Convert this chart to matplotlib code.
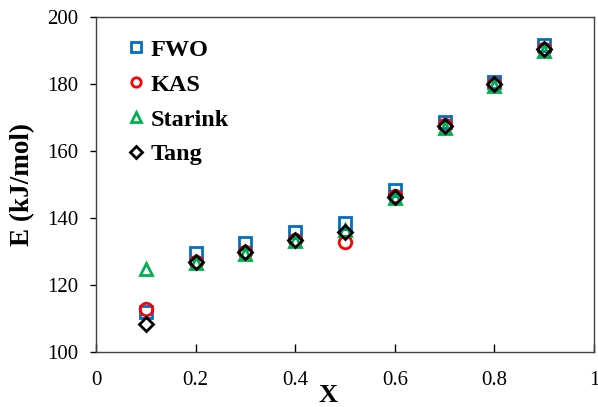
import matplotlib
matplotlib.use("Agg")
import matplotlib.pyplot as plt

x = [0.1, 0.2, 0.3, 0.4, 0.5, 0.6, 0.7, 0.8, 0.9]
fwo = [112.0, 129.6, 132.5, 135.9, 138.4, 148.4, 168.8, 180.7, 191.6]
kas = [112.8, 127.0, 130.0, 133.5, 132.9, 146.6, 167.7, 180.1, 190.6]
starink = [124.8, 126.6, 129.4, 133.0, 136.4, 146.0, 167.0, 179.4, 190.0]
tang = [108.4, 126.9, 129.9, 133.4, 135.9, 146.3, 167.5, 180.0, 190.4]

xticks = [0, 0.2, 0.4, 0.6, 0.8, 1]
xticklabels = ["0", "0.2", "0.4", "0.6", "0.8", "1"]
yticks = [100, 120, 140, 160, 180, 200]

plt.rcParams['font.family'] = ['Liberation Serif', 'DejaVu Serif']

fig = plt.figure(figsize=(5.98, 4.07), dpi=100)
ax = fig.add_axes([0.1605, 0.1351, 0.8328, 0.8231])

ms = 9
mew = 2.0
ax.plot(x, fwo, ls='none', marker='s', ms=ms, mfc='none', mec='#0070C0', mew=mew, label='FWO')
ax.plot(x, kas, ls='none', marker='o', ms=ms, mfc='none', mec='#FF0000', mew=mew, label='KAS')
ax.plot(x, starink, ls='none', marker='^', ms=ms, mfc='none', mec='#00B050', mew=mew, label='Starink')
ax.plot(x, tang, ls='none', marker='D', ms=7.5, mfc='none', mec='black', mew=mew, label='Tang')

ax.set_xlim(0, 1)
ax.set_ylim(100, 200)
ax.set_xticks(xticks)
ax.set_xticklabels(xticklabels)
ax.set_yticks(yticks)

ax.tick_params(axis='x', direction='in', length=6, width=1, pad=14, labelsize=15)
ax.tick_params(axis='y', direction='out', length=4, width=1, pad=9, labelsize=15)
for s in ax.spines.values():
    s.set_linewidth(1.0)
    s.set_color('#404040')

fig.text(23 / 598, 1 - 184.5 / 407, 'E (kJ/mol)', rotation=90, ha='center', va='center',
         fontsize=19.5, fontweight='bold')
fig.text(328 / 598, 0.5 / 407, 'X', ha='center', va='bottom',
         fontsize=19, fontweight='bold')

leg = ax.legend(loc='upper left', bbox_to_anchor=(0.066, 0.935), frameon=False,
                prop={'family': 'Liberation Serif', 'weight': 'bold', 'size': 17.5},
                markerscale=0.75, handlelength=0.6, handletextpad=0.28,
                labelspacing=0.53, borderaxespad=0, borderpad=0)

fig.savefig('out.png', dpi=100)
